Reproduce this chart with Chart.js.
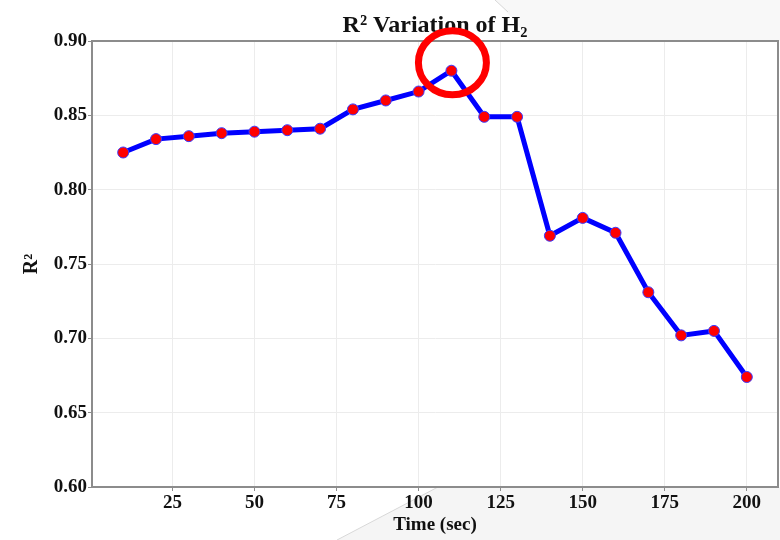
<!DOCTYPE html>
<html><head><meta charset="utf-8">
<script src="https://cdn.jsdelivr.net/npm/chart.js@4.4.1/dist/chart.umd.min.js"></script>
<style>html,body{margin:0;padding:0;background:#fff;}#wrap{width:780px;height:540px;position:relative;}</style>
</head><body><div id="wrap"><canvas id="c" width="780" height="540"></canvas></div>
<script>
// ---- data ----
const timeSec = [10,20,30,40,50,60,70,80,90,100,110,120,130,140,150,160,170,180,190,200];
const r2Values = [0.825,0.834,0.836,0.838,0.839,0.840,0.841,0.854,0.860,0.866,0.880,0.849,0.849,0.769,0.781,0.771,0.731,0.702,0.705,0.674];
const xTickValues = [25,50,75,100,125,150,175,200];
const yTickValues = [0.60,0.65,0.70,0.75,0.80,0.85,0.90];
const chartTitle = 'R² Variation of H₂';
const xAxisTitle = 'Time (sec)';
const yAxisTitle = 'R²';
const highlightTime = 110;

const SERIF = '"Liberation Serif","Times New Roman",serif';

const decoPlugin = {
  id: 'deco',
  beforeDraw(chart) {
    const ctx = chart.ctx, W = chart.width, H = chart.height, a = chart.chartArea;
    ctx.save();
    ctx.fillStyle = '#ffffff';
    ctx.fillRect(0, 0, W, H);
    // faint screenshot-like shading
    ctx.fillStyle = '#f5f5f5';
    ctx.beginPath();
    ctx.moveTo(337, H); ctx.lineTo(438, a.bottom); ctx.lineTo(W, a.bottom); ctx.lineTo(W, H); ctx.closePath();
    ctx.fill();
    ctx.fillStyle = '#f8f8f8';
    ctx.beginPath();
    ctx.moveTo(495, 0); ctx.quadraticCurveTo(512, 16, 530, a.top); ctx.lineTo(W, a.top); ctx.lineTo(W, 0); ctx.closePath();
    ctx.fill();
    ctx.strokeStyle = '#d8d8d8'; ctx.lineWidth = 1;
    ctx.beginPath(); ctx.moveTo(337, H); ctx.lineTo(438, a.bottom); ctx.stroke();
    ctx.beginPath(); ctx.moveTo(495, 0); ctx.lineTo(508, 12); ctx.stroke();
    ctx.restore();
  },
  afterDraw(chart) {
    const ctx = chart.ctx, a = chart.chartArea;
    ctx.save();
    // top and right spines
    ctx.strokeStyle = '#8c8c8c'; ctx.lineWidth = 2;
    ctx.beginPath(); ctx.moveTo(a.left - 1, a.top); ctx.lineTo(a.right, a.top); ctx.lineTo(a.right, a.bottom); ctx.stroke();
    // title
    ctx.fillStyle = '#111';
    ctx.font = 'bold 24px ' + SERIF;
    ctx.textAlign = 'center'; ctx.textBaseline = 'alphabetic';
    ctx.fillText(chartTitle, (a.left + a.right) / 2, a.top - 9);
    // highlight ellipse around the peak point
    const idx = timeSec.indexOf(highlightTime);
    const px = chart.scales.x.getPixelForValue(timeSec[idx]);
    const py = chart.scales.y.getPixelForValue(r2Values[idx]);
    ctx.strokeStyle = '#ff0000'; ctx.lineWidth = 7;
    ctx.beginPath(); ctx.ellipse(px + 1, py - 8, 34, 32, 0, 0, Math.PI * 2); ctx.stroke();
    ctx.restore();
  }
};

new Chart(document.getElementById('c'), {
  type: 'line',
  data: {
    datasets: [{
      data: timeSec.map((t, i) => ({ x: t, y: r2Values[i] })),
      borderColor: '#0000ff',
      borderWidth: 5,
      pointRadius: 5.5,
      pointBackgroundColor: '#ff0000',
      pointBorderColor: '#3b3bff',
      pointBorderWidth: 1,
      tension: 0,
      clip: false
    }]
  },
  options: {
    responsive: false,
    animation: false,
    layout: { autoPadding: false, padding: { top: 41, left: 0, right: 2, bottom: 0 } },
    plugins: { legend: { display: false }, tooltip: { enabled: false }, title: { display: false } },
    scales: {
      x: {
        type: 'linear', min: 0.5, max: 209.5,
        afterBuildTicks(s) { s.ticks = xTickValues.map(v => ({ value: v })); },
        afterFit(s) { s.height = 53; s.paddingRight = 0; s.paddingLeft = 0; },
        grid: { color: '#ececec', lineWidth: 1, tickColor: '#8c8c8c', tickLength: 4 },
        border: { color: '#8c8c8c', width: 2 },
        ticks: { color: '#111', font: { family: SERIF, size: 19, weight: 'bold' }, padding: 1, maxRotation: 0,
                 callback: v => String(v) },
        title: { display: true, text: xAxisTitle, color: '#111', font: { family: SERIF, size: 19, weight: 'bold' }, padding: { top: 0, bottom: 4 } }
      },
      y: {
        type: 'linear', min: 0.6, max: 0.9,
        afterBuildTicks(s) { s.ticks = yTickValues.map(v => ({ value: v })); },
        afterFit(s) { s.width = 92; },
        grid: { color: '#ececec', lineWidth: 1, tickColor: '#8c8c8c', tickLength: 4 },
        border: { color: '#8c8c8c', width: 2 },
        ticks: { color: '#111', font: { family: SERIF, size: 19, weight: 'bold' }, padding: 1,
                 callback: v => Number(v).toFixed(2) },
        title: { display: true, text: yAxisTitle, color: '#111', font: { family: SERIF, size: 20, weight: 'bold' }, padding: { top: 20, bottom: 0 } }
      }
    }
  },
  plugins: [decoPlugin]
});
</script>
</body></html>
